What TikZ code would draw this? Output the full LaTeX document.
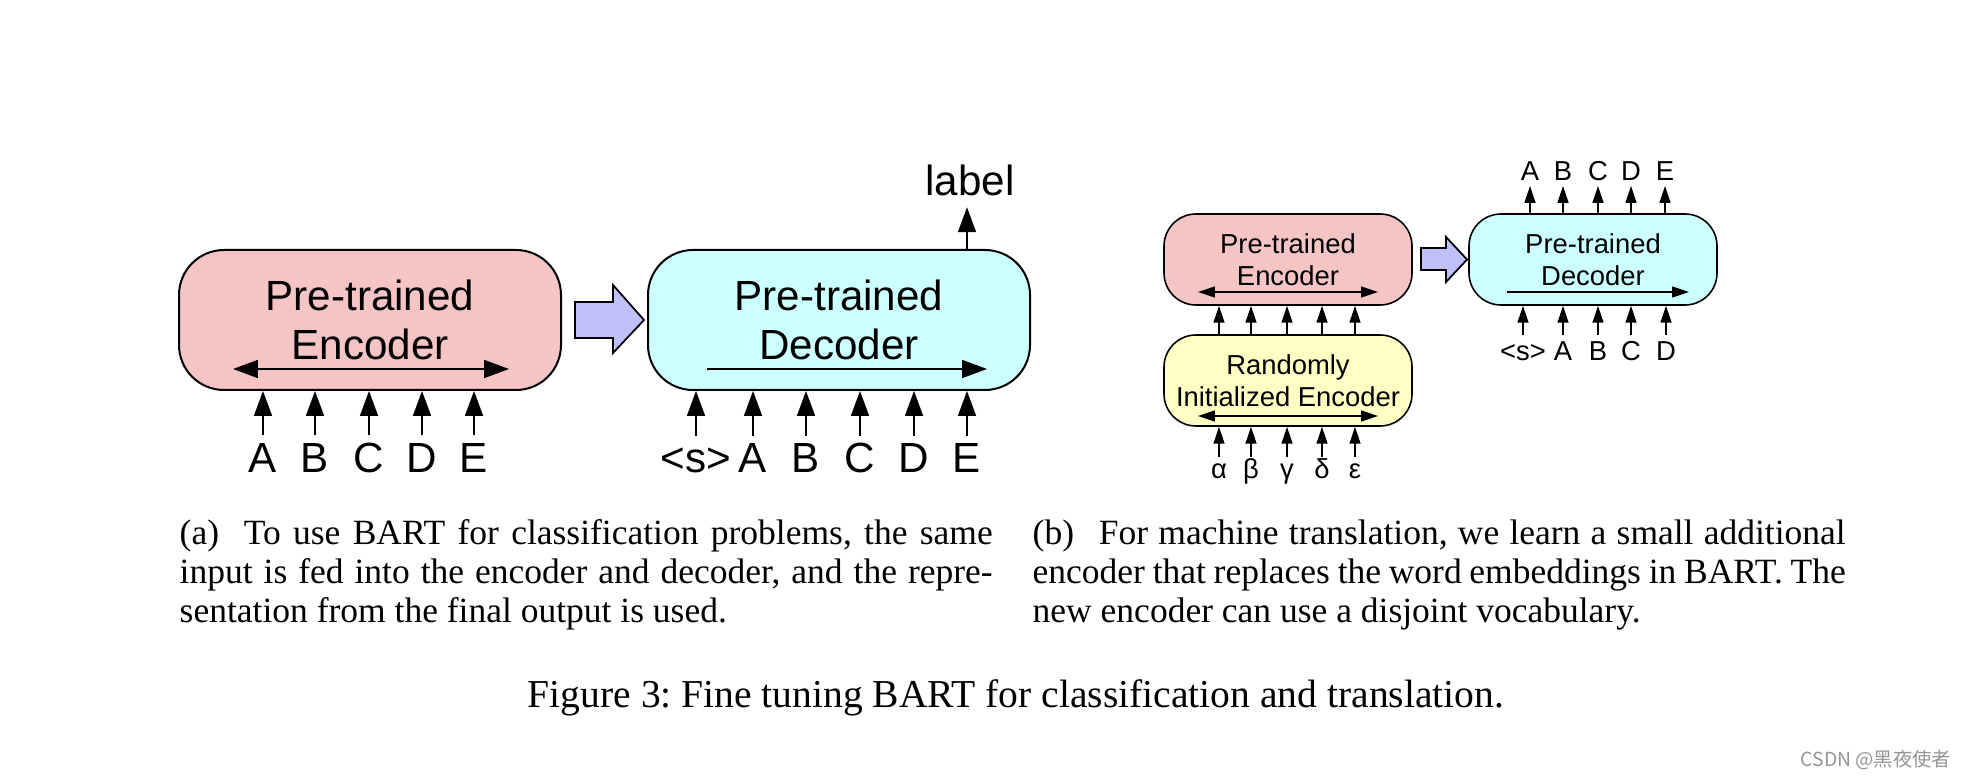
\documentclass[tikz,border=0pt]{standalone}
\usepackage{fontspec}
\setmainfont{Liberation Serif}
\setsansfont{Liberation Sans}
\newfontfamily\cjkfont{Noto Sans CJK SC}
\usetikzlibrary{arrows.meta}
\definecolor{encpink}{RGB}{245,196,196}
\definecolor{deccyan}{RGB}{204,255,255}
\definecolor{randyellow}{RGB}{255,255,196}
\definecolor{shiftblue}{RGB}{192,192,250}
\frenchspacing

\begin{document}
\begin{tikzpicture}
\tikzset{big box/.style={shape=rectangle, draw=black, line width=0.57pt, rounded corners=0.45cm,
           minimum width=3.82cm, minimum height=1.40cm, align=center,
           font=\sffamily\fontsize{12}{13.7}\selectfont},
         small box/.style={shape=rectangle, draw=black, line width=0.45pt, rounded corners=0.32cm,
           minimum width=2.48cm, minimum height=0.91cm, align=center,
           font=\sffamily\fontsize{7.8}{9.1}\selectfont},
         big tok/.style={font=\sffamily\fontsize{12}{14}\selectfont, text height=8.6pt,
           text depth=0pt, inner sep=1.7pt, anchor=base},
         small tok/.style={font=\sffamily\fontsize{7.8}{9}\selectfont, text height=5.6pt,
           text depth=0pt, inner sep=1.2pt, anchor=base},
         greek tok/.style={small tok, text height=4.6pt},
         big arrow/.style={line width=0.55pt, -{Triangle[length=7.1pt,width=5.1pt]}},
         big both/.style={line width=0.55pt, {Triangle[length=7.1pt,width=5.1pt]}-{Triangle[length=7.1pt,width=5.1pt]}},
         small arrow/.style={line width=0.45pt, -{Triangle[length=4.8pt,width=3.1pt]}},
         small both/.style={line width=0.45pt, {Triangle[length=4.8pt,width=3.1pt]}-{Triangle[length=4.8pt,width=3.1pt]}},
         shift arrow/.style={draw=black, line width=0.5pt, fill=shiftblue, line join=miter},
         sub caption/.style={anchor=base west, inner sep=0pt, text width=8.13cm, align=justify,
           font=\fontsize{10.1}{11.1}\selectfont}}

\useasboundingbox (0, 0) rectangle (19.66, -7.80);

% (a) classification
\node[big box, fill=encpink] at (3.70, -3.20)  (enc)  {Pre-trained\\Encoder};
\node[big box, fill=deccyan] at (8.39, -3.20)  (dec)  {Pre-trained\\Decoder};

\node[big tok] at (2.63, -4.72)   (ea)   {A};
\node[big tok] at (3.15, -4.72)   (eb)   {B};
\node[big tok] at (3.69, -4.72)   (ec)   {C};
\node[big tok] at (4.22, -4.72)   (ed)   {D};
\node[big tok] at (4.74, -4.72)   (ee)   {E};

\node[big tok] at (6.96, -4.73)   (ds)   {<s>};
\node[big tok] at (7.53, -4.73)   (da)   {A};
\node[big tok] at (8.06, -4.73)   (db)   {B};
\node[big tok] at (8.60, -4.73)   (dc)   {C};
\node[big tok] at (9.14, -4.73)   (dd)   {D};
\node[big tok] at (9.67, -4.73)   (de)   {E};

\node[big tok, inner sep=3pt] at (9.70, -1.96)   (lbl)  {label};

\coordinate (encL) at (2.33, -3.69);
\coordinate (encR) at (5.09, -3.69);
\coordinate (decL) at (7.07, -3.69);
\coordinate (decR) at (9.87, -3.69);

\draw[big both] (encL) -- (encR);
\draw[big arrow] (decL) -- (decR);

\path[big arrow]
            (ea)    edge    (ea |- enc.south)
            (eb)    edge    (eb |- enc.south)
            (ec)    edge    (ec |- enc.south)
            (ed)    edge    (ed |- enc.south)
            (ee)    edge    (ee |- enc.south)
            (ds)    edge    (ds |- dec.south)
            (da)    edge    (da |- dec.south)
            (db)    edge    (db |- dec.south)
            (dc)    edge    (dc |- dec.south)
            (dd)    edge    (dd |- dec.south)
            (de)    edge    (de |- dec.south)
            (de |- dec.north)   edge    (de |- lbl.south)
;

\draw[shift arrow] (5.75, -3.02) -- (6.13, -3.02) -- (6.13, -2.85) -- (6.44, -3.20)
                -- (6.13, -3.53) -- (6.13, -3.38) -- (5.75, -3.38) -- cycle;

% (b) translation
\node[small box, fill=encpink]    at (12.88, -2.595)  (enc2)  {Pre-trained\\Encoder};
\node[small box, fill=randyellow] at (12.88, -3.805)  (rand)  {Randomly\\Initialized Encoder};
\node[small box, fill=deccyan]    at (15.93, -2.595)  (dec2)  {Pre-trained\\Decoder};

\node[greek tok] at (12.19, -4.78)   (g1)   {α};
\node[greek tok] at (12.51, -4.78)   (g2)   {β};
\node[greek tok] at (12.87, -4.78)   (g3)   {γ};
\node[greek tok] at (13.22, -4.78)   (g4)   {δ};
\node[greek tok] at (13.55, -4.78)   (g5)   {ε};

\node[small tok] at (15.23, -3.60)   (s2)   {<s>};
\node[small tok] at (15.63, -3.60)   (i1)   {A};
\node[small tok] at (15.98, -3.60)   (i2)   {B};
\node[small tok] at (16.31, -3.60)   (i3)   {C};
\node[small tok] at (16.66, -3.60)   (i4)   {D};

\node[small tok] at (15.30, -1.81)   (o1)   {A};
\node[small tok] at (15.63, -1.81)   (o2)   {B};
\node[small tok] at (15.98, -1.81)   (o3)   {C};
\node[small tok] at (16.31, -1.81)   (o4)   {D};
\node[small tok] at (16.65, -1.81)   (o5)   {E};

\coordinate (enc2L) at (11.98, -2.92);
\coordinate (enc2R) at (13.78, -2.92);
\coordinate (randL) at (11.98, -4.16);
\coordinate (randR) at (13.78, -4.16);
\coordinate (dec2L) at (15.07, -2.92);
\coordinate (dec2R) at (16.89, -2.92);

\draw[small both] (enc2L) -- (enc2R);
\draw[small both] (randL) -- (randR);
\draw[small arrow] (dec2L) -- (dec2R);

\path[small arrow]
            (g1)    edge    (g1 |- rand.south)
            (g2)    edge    (g2 |- rand.south)
            (g3)    edge    (g3 |- rand.south)
            (g4)    edge    (g4 |- rand.south)
            (g5)    edge    (g5 |- rand.south)
            (g1 |- rand.north)    edge    (g1 |- enc2.south)
            (g2 |- rand.north)    edge    (g2 |- enc2.south)
            (g3 |- rand.north)    edge    (g3 |- enc2.south)
            (g4 |- rand.north)    edge    (g4 |- enc2.south)
            (g5 |- rand.north)    edge    (g5 |- enc2.south)
            (s2)    edge    (s2 |- dec2.south)
            (i1)    edge    (i1 |- dec2.south)
            (i2)    edge    (i2 |- dec2.south)
            (i3)    edge    (i3 |- dec2.south)
            (i4)    edge    (i4 |- dec2.south)
            (o1 |- dec2.north)    edge    (o1)
            (o2 |- dec2.north)    edge    (o2)
            (o3 |- dec2.north)    edge    (o3)
            (o4 |- dec2.north)    edge    (o4)
            (o5 |- dec2.north)    edge    (o5)
;

\draw[shift arrow] (14.21, -2.48) -- (14.46, -2.48) -- (14.46, -2.37) -- (14.67, -2.595)
                -- (14.46, -2.82) -- (14.46, -2.70) -- (14.21, -2.70) -- cycle;

% captions
\node[sub caption] at (1.79, -5.44) (capa) {(a)\hspace{0.7em}To use BART for classification problems, the same\linebreak
  input is fed into the encoder and decoder, and the repre-\linebreak
  sentation from the final output is used.};
\node[sub caption] at (10.32, -5.44) (capb) {(b)\hspace{0.7em}For machine translation, we learn a small additional\linebreak
  encoder that replaces the word embeddings in BART. The\linebreak
  new encoder can use a disjoint vocabulary.};

\node[anchor=base, inner sep=0pt, font=\fontsize{11.25}{13}\selectfont] at (10.16, -7.07) (cap)
  {Figure 3: Fine tuning BART for classification and translation.};

\node[anchor=base west, inner sep=0pt, text=black!42, font=\cjkfont\fontsize{5.5}{6}\selectfont]
  at (18.00, -7.66) (mark) {CSDN @黑夜使者};
\end{tikzpicture}
\end{document}
